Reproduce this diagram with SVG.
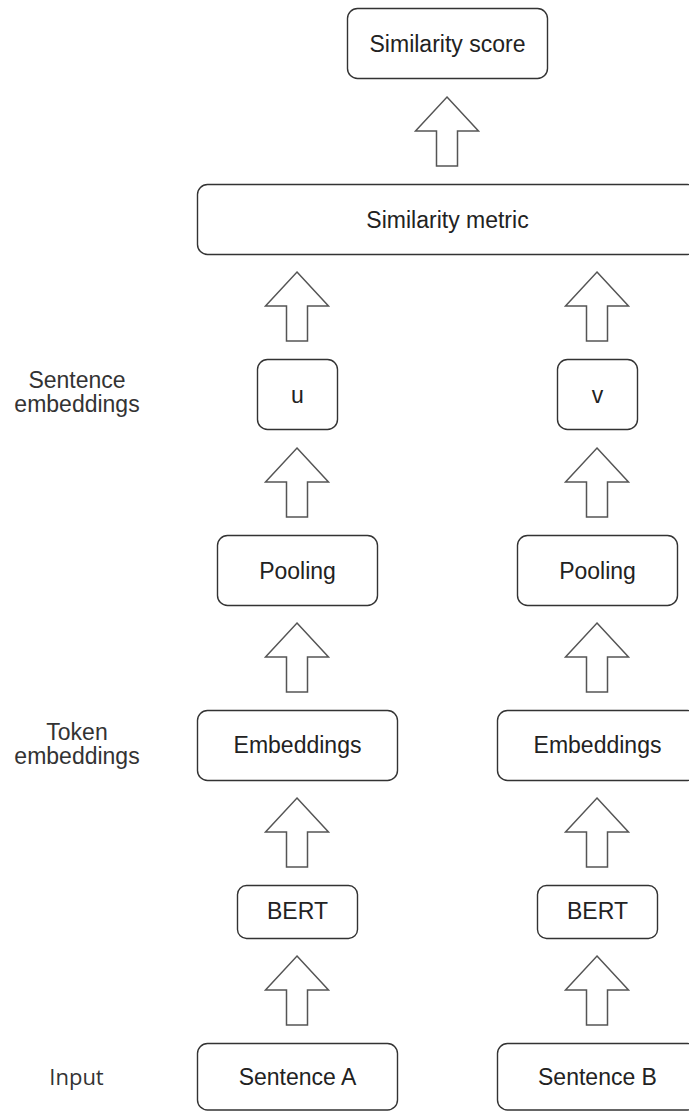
<svg xmlns="http://www.w3.org/2000/svg" xmlns:xlink="http://www.w3.org/1999/xlink" width="689" height="1111" viewBox="0 0 689 1111">
<style>
.box{fill:#ffffff;stroke:#333333;stroke-width:1.4}
.t{font-family:"Liberation Sans",Arial,sans-serif;font-size:23px;fill:#222222;text-anchor:middle}
.lab{font-family:"Liberation Sans",Arial,sans-serif;font-size:23px;fill:#333333;text-anchor:middle}
.inp{font-family:"Open Sans","Noto Sans",sans-serif;font-size:22px;fill:#333333;text-anchor:middle}
.arr{fill:#ffffff;stroke:#555555;stroke-width:1.5;stroke-linejoin:miter}
</style>
<defs>
<polygon id="up" class="arr" points="0,0 31.5,34 10.5,34 10.5,69 -10.5,69 -10.5,34 -31.5,34"/>
</defs>
<rect width="689" height="1111" fill="#ffffff"/>

<g id="connectors">
<use xlink:href="#up" href="#up" transform="translate(447,97)"/>
<use xlink:href="#up" href="#up" transform="translate(297,272)"/>
<use xlink:href="#up" href="#up" transform="translate(597,272)"/>
<use xlink:href="#up" href="#up" transform="translate(297,448)"/>
<use xlink:href="#up" href="#up" transform="translate(597,448)"/>
<use xlink:href="#up" href="#up" transform="translate(297,623)"/>
<use xlink:href="#up" href="#up" transform="translate(597,623)"/>
<use xlink:href="#up" href="#up" transform="translate(297,798)"/>
<use xlink:href="#up" href="#up" transform="translate(597,798)"/>
<use xlink:href="#up" href="#up" transform="translate(297,956)"/>
<use xlink:href="#up" href="#up" transform="translate(597,956)"/>
</g>

<g id="similarity-score">
<rect class="box" x="347.5" y="8.5" width="200" height="70" rx="10"/>
<text class="t" x="447.5" y="51.5">Similarity score</text>
</g>
<g id="similarity-metric">
<rect class="box" x="197.5" y="184.5" width="500" height="70" rx="10"/>
<text class="t" x="447.5" y="227.5">Similarity metric</text>
</g>
<g id="u">
<rect class="box" x="257.5" y="359.5" width="80" height="70" rx="10"/>
<text class="t" x="297.5" y="402.5">u</text>
</g>
<g id="v">
<rect class="box" x="557.5" y="359.5" width="80" height="70" rx="10"/>
<text class="t" x="597.5" y="402.5">v</text>
</g>
<g id="pooling-a">
<rect class="box" x="217.5" y="535.5" width="160" height="70" rx="10"/>
<text class="t" x="297.5" y="578.5">Pooling</text>
</g>
<g id="pooling-b">
<rect class="box" x="517.5" y="535.5" width="160" height="70" rx="10"/>
<text class="t" x="597.5" y="578.5">Pooling</text>
</g>
<g id="embeddings-a">
<rect class="box" x="197.5" y="710.5" width="200" height="70" rx="10"/>
<text class="t" x="297.5" y="753">Embeddings</text>
</g>
<g id="embeddings-b">
<rect class="box" x="497.5" y="710.5" width="200" height="70" rx="10"/>
<text class="t" x="597.5" y="753">Embeddings</text>
</g>
<g id="bert-a">
<rect class="box" x="237.5" y="885.5" width="120" height="53" rx="9"/>
<text class="t" x="297.5" y="919">BERT</text>
</g>
<g id="bert-b">
<rect class="box" x="537.5" y="885.5" width="120" height="53" rx="9"/>
<text class="t" x="597.5" y="919">BERT</text>
</g>
<g id="sentence-a">
<rect class="box" x="197.5" y="1043.5" width="200" height="66.5" rx="10"/>
<text class="t" x="297.5" y="1085">Sentence A</text>
</g>
<g id="sentence-b">
<rect class="box" x="497.5" y="1043.5" width="200" height="66.5" rx="10"/>
<text class="t" x="597.5" y="1085">Sentence B</text>
</g>

<g id="labels">
<text class="lab" x="77" y="388">Sentence</text>
<text class="lab" x="77" y="412">embeddings</text>
<text class="lab" x="77" y="740">Token</text>
<text class="lab" x="77" y="764">embeddings</text>
<text class="inp" x="76.5" y="1085">Input</text>
</g>
</svg>
